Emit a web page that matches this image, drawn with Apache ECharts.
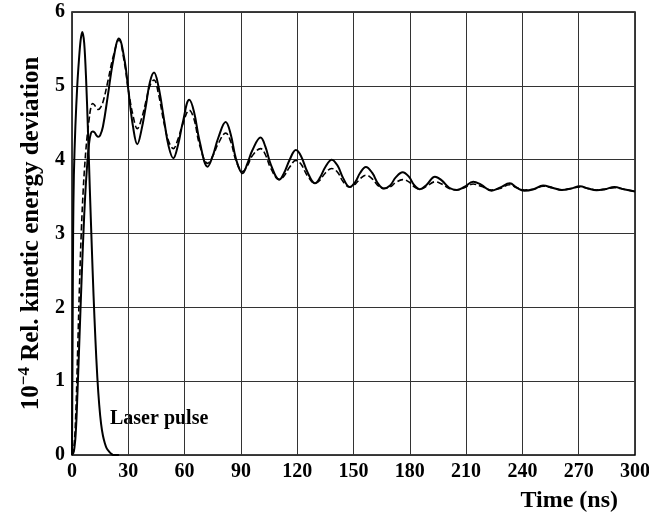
<!DOCTYPE html>
<html><head><meta charset="utf-8">
<script src="https://cdn.jsdelivr.net/npm/echarts@6/dist/echarts.min.js"></script>
<style>html,body{margin:0;padding:0;background:#fff}#c{width:649px;height:518px}</style>
</head><body><div id="c"></div>
<script>
const xTicks = [0,30,60,90,120,150,180,210,240,270,300];
const yTicks = [0,1,2,3,4,5,6];

const pulseTime  = [0,0.3,0.6,1,1.8,2.8,3.7,4.6,5.5,6.5,7.5,8.5,9.5,10.5,11.5,12.5,13.5,14.5,15.5,16.5,17.5,18.5,20,21,22,25];
const pulseValue = [0,1.5,3.0,3.8,4.45,5.0,5.35,5.62,5.73,5.58,5.1,4.4,3.6,2.85,2.15,1.55,1.05,0.68,0.42,0.26,0.16,0.09,0.04,0.015,0,0];

const respTime = [0,1,2,3,4,5,6,7,8,9,10,11,12,13,14,15,16.5,
  19,22,25,28,30,32.5,34.8,37,39.5,41.5,43.7,46,49,51.5,54,56.5,59,62.5,65,68,72.3,75,78,81.9,84.5,87.5,90.9,93.5,96,100.5,103,106,110.5,113,116,119.3,122,125.5,129.5,132,135,138.4,141.5,144.5,148,151,153.5,156.6,160,163,166.2,169.5,172.5,176.2,179.5,182.5,185.4,189,193.4,197,201,205,209,213.8,218,223.6,228,233.3,237,241,246,251,256,261,266,270.6,275,279.5,284,289,294,300];

const solidValue = [0,0.05,0.3,0.9,1.6,2.3,2.95,3.5,3.9,4.2,4.35,4.38,4.37,4.33,4.31,4.33,4.45,
  4.85,5.35,5.64,5.35,4.95,4.45,4.21,4.4,4.75,5.05,5.18,5.0,4.55,4.18,4.02,4.2,4.5,4.81,4.65,4.25,3.905,4.05,4.3,4.51,4.35,4.0,3.815,3.95,4.12,4.30,4.18,3.93,3.73,3.82,4.0,4.13,4.05,3.83,3.68,3.75,3.9,4.0,3.92,3.75,3.63,3.7,3.82,3.90,3.82,3.68,3.61,3.65,3.76,3.83,3.77,3.65,3.60,3.66,3.77,3.72,3.62,3.59,3.63,3.70,3.66,3.58,3.62,3.68,3.62,3.58,3.6,3.65,3.62,3.59,3.61,3.64,3.61,3.585,3.6,3.63,3.6,3.57];

const dashedValue = [0,0.1,0.55,1.4,2.3,3.05,3.6,4.0,4.3,4.52,4.7,4.76,4.74,4.70,4.68,4.7,4.78,
  5.05,5.4,5.62,5.3,4.95,4.6,4.42,4.55,4.8,5.0,5.08,4.9,4.5,4.25,4.15,4.28,4.48,4.67,4.55,4.2,3.95,4.05,4.22,4.36,4.25,3.98,3.84,3.92,4.05,4.15,4.07,3.88,3.73,3.78,3.9,3.99,3.94,3.78,3.68,3.72,3.82,3.88,3.83,3.7,3.63,3.67,3.74,3.79,3.74,3.65,3.61,3.63,3.69,3.73,3.7,3.63,3.60,3.64,3.70,3.67,3.61,3.59,3.62,3.67,3.64,3.59,3.61,3.66,3.62,3.59,3.6,3.64,3.62,3.59,3.61,3.63,3.61,3.59,3.6,3.62,3.6,3.57];

const zip = (a, b) => a.map((t, i) => [t, b[i]]);
const font = '"Liberation Serif", "DejaVu Serif", serif';
const chart = echarts.init(document.getElementById('c'));
chart.setOption({
  animation: false,
  backgroundColor: '#fff',
  grid: { left: 72, right: 14, top: 12, bottom: 63, show: true, borderColor: '#000', borderWidth: 1.5,
    containLabel: false, outerBoundsMode: 'none' },
  xAxis: {
    type: 'value', min: 0, max: 300, interval: 30,
    axisLine: { show: false }, axisTick: { show: false },
    splitLine: { show: true, lineStyle: { color: '#333', width: 1 } },
    axisLabel: { color: '#000', fontFamily: font, fontWeight: 'bold', fontSize: 20, margin: 7,
      formatter: v => xTicks.includes(v) ? String(v) : '' }
  },
  yAxis: {
    type: 'value', min: 0, max: 6, interval: 1,
    axisLine: { show: false }, axisTick: { show: false },
    splitLine: { show: true, lineStyle: { color: '#333', width: 1 } },
    axisLabel: { color: '#000', fontFamily: font, fontWeight: 'bold', fontSize: 20, margin: 7,
      formatter: v => yTicks.includes(v) ? String(v) : '' },
    name: '{b|10}{s|−4}{b| Rel. kinetic energy deviation}',
    nameLocation: 'middle', nameGap: 25, nameRotate: 90,
    nameTextStyle: {
      rich: {
        b: { fontFamily: font, fontWeight: 'bold', fontSize: 25, color: '#000' },
        s: { fontFamily: font, fontWeight: 'bold', fontSize: 17, color: '#000', verticalAlign: 'bottom', padding: [0,0,14,0] }
      }
    }
  },
  graphic: [
    { type: 'text', right: 31, top: 489, style: { text: 'Time (ns)', font: 'bold 24px ' + font, fill: '#000' } },
    { type: 'text', left: 110, top: 409, style: { text: 'Laser pulse', font: 'bold 20px ' + font, fill: '#000' } }
  ],
  series: [
    { type: 'line', data: zip(pulseTime, pulseValue), smooth: 0.3, showSymbol: false,
      lineStyle: { color: '#000', width: 2 } },
    { type: 'line', data: zip(respTime, dashedValue), smooth: 0.4, showSymbol: false,
      lineStyle: { color: '#000', width: 1.6, type: [6, 3] } },
    { type: 'line', data: zip(respTime, solidValue), smooth: 0.4, showSymbol: false,
      lineStyle: { color: '#000', width: 2 } }
  ]
});
</script></body></html>
